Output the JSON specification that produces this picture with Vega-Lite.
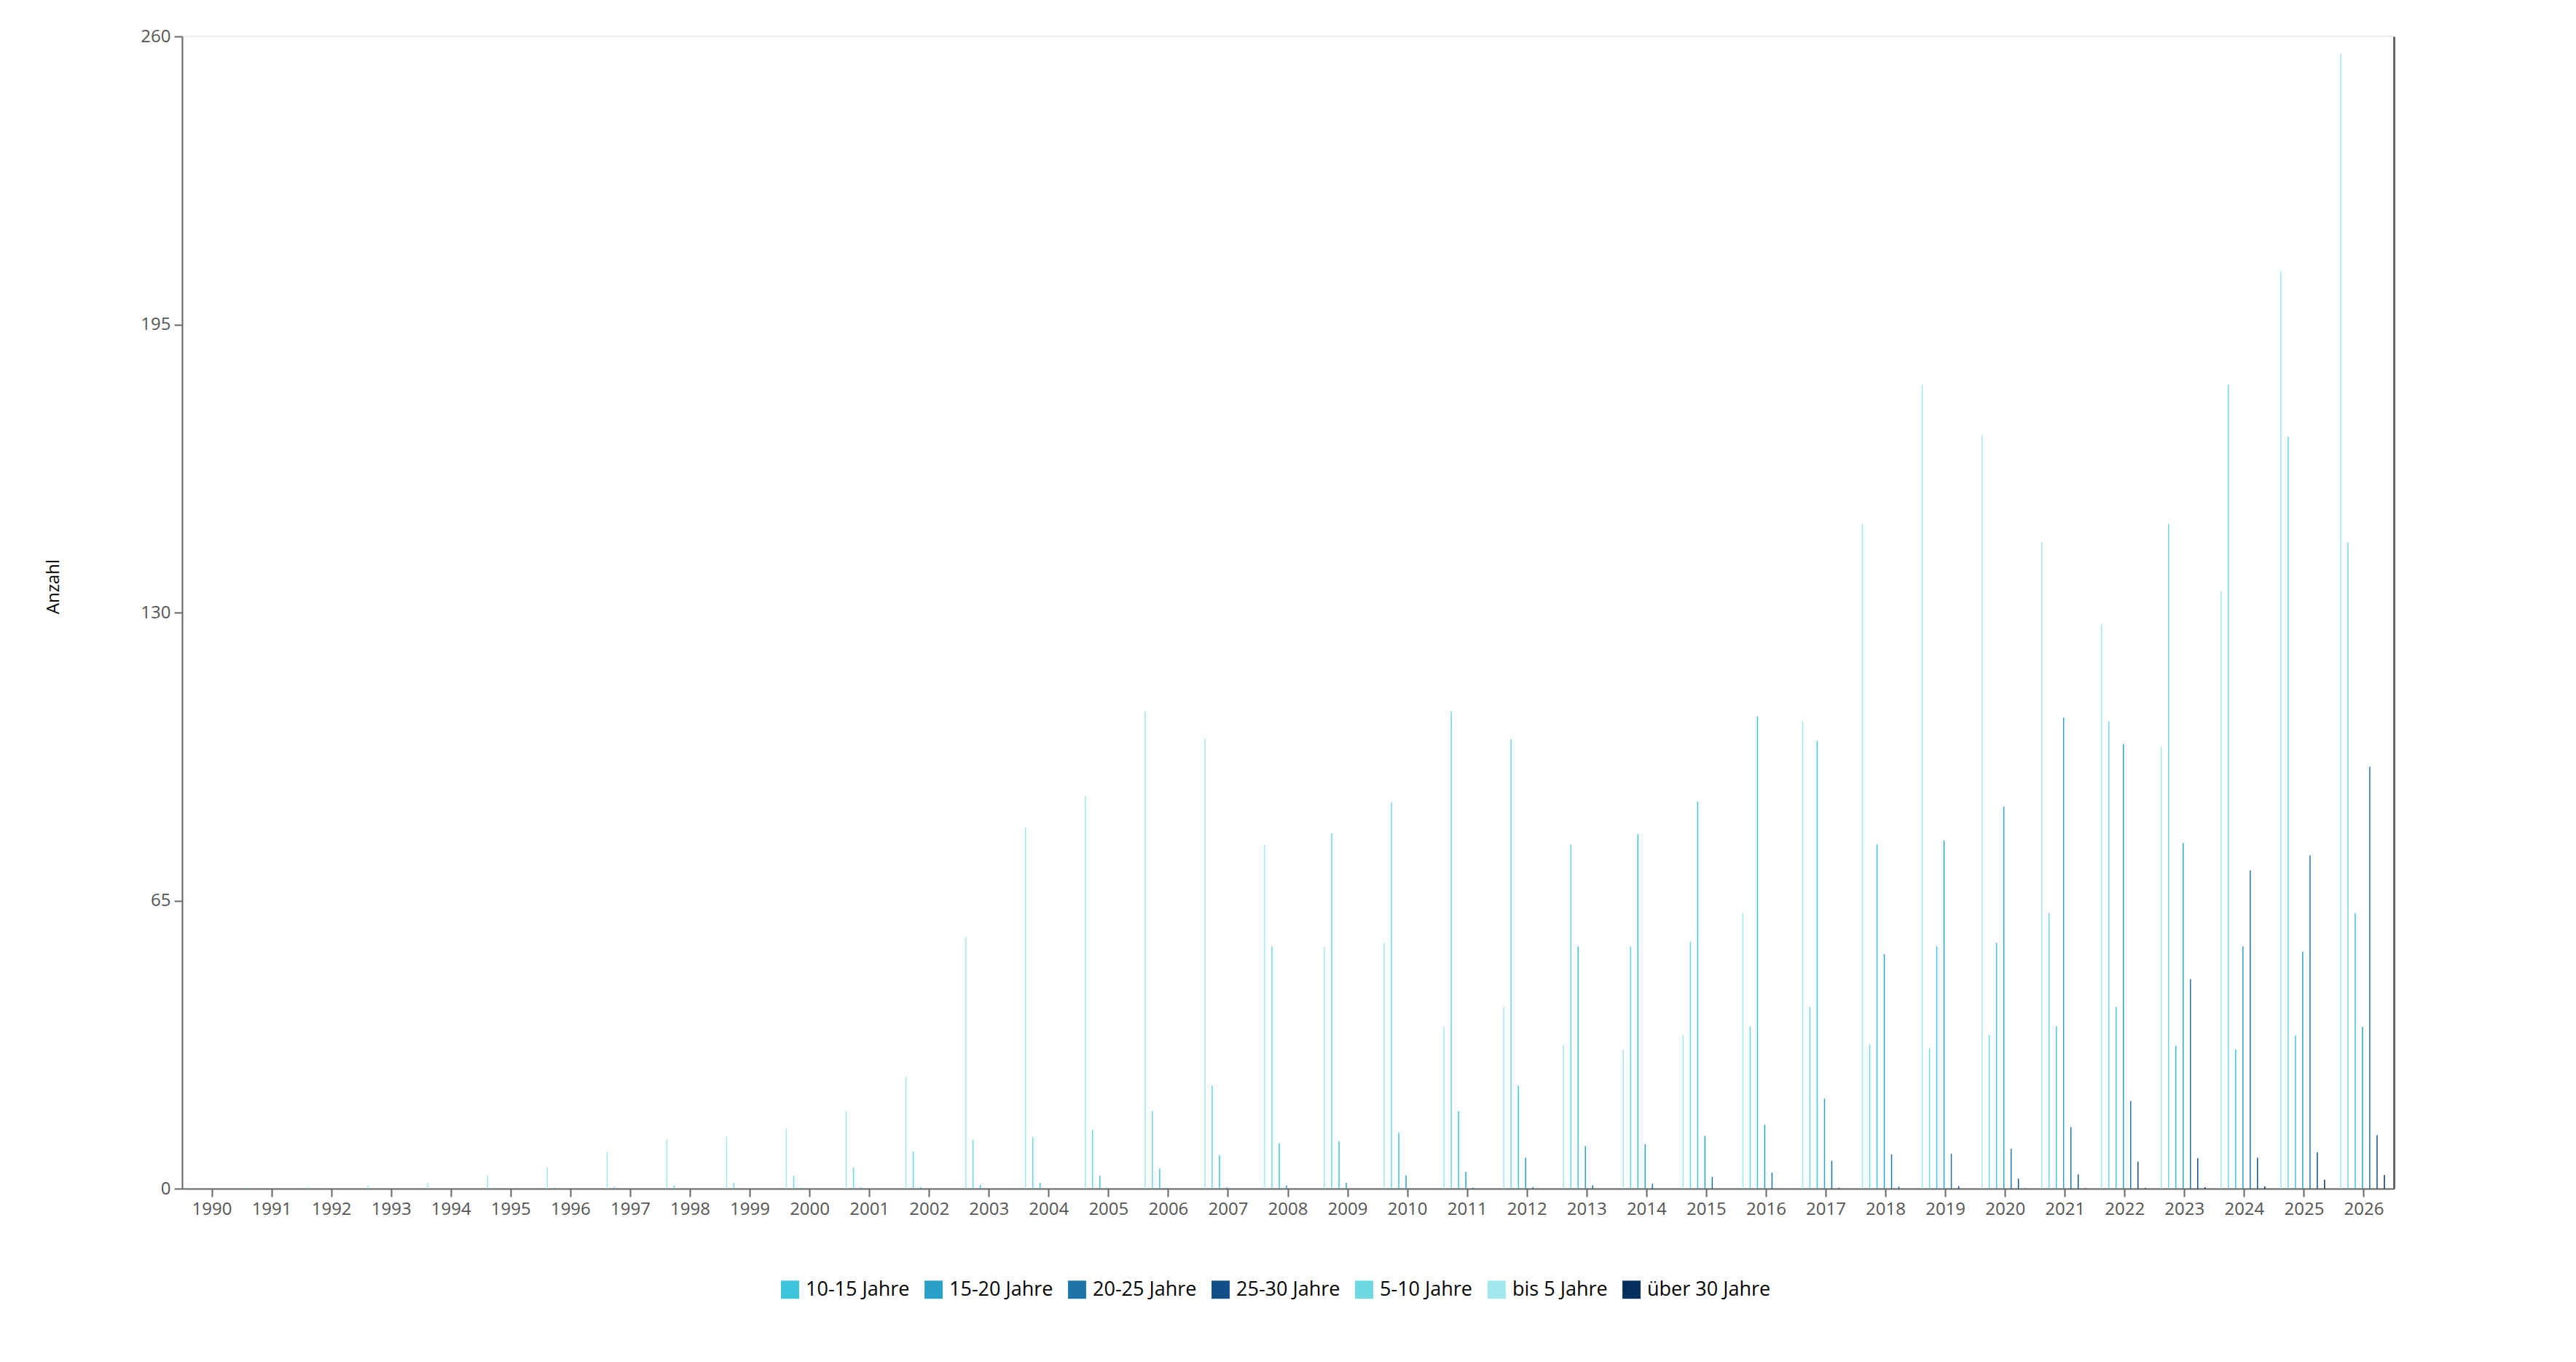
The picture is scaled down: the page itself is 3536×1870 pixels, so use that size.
{
  "$schema": "https://vega.github.io/schema/vega-lite/v6.json",
  "width": 3036,
  "height": 1582,
  "autosize": "none",
  "padding": {"left": 250, "top": 50, "right": 250, "bottom": 238},
  "data": {
    "values": [
      {"Jahr": "1990", "Kategorie": "bis 5 Jahre", "Anzahl": 0.2},
      {"Jahr": "1991", "Kategorie": "bis 5 Jahre", "Anzahl": 0.3},
      {"Jahr": "1992", "Kategorie": "bis 5 Jahre", "Anzahl": 0.45},
      {"Jahr": "1993", "Kategorie": "bis 5 Jahre", "Anzahl": 0.8},
      {"Jahr": "1994", "Kategorie": "bis 5 Jahre", "Anzahl": 1.3},
      {"Jahr": "1995", "Kategorie": "bis 5 Jahre", "Anzahl": 2.9},
      {"Jahr": "1995", "Kategorie": "5-10 Jahre", "Anzahl": 0.2},
      {"Jahr": "1996", "Kategorie": "bis 5 Jahre", "Anzahl": 4.8},
      {"Jahr": "1996", "Kategorie": "5-10 Jahre", "Anzahl": 0.3},
      {"Jahr": "1997", "Kategorie": "bis 5 Jahre", "Anzahl": 8.4},
      {"Jahr": "1997", "Kategorie": "5-10 Jahre", "Anzahl": 0.4},
      {"Jahr": "1998", "Kategorie": "bis 5 Jahre", "Anzahl": 11.1},
      {"Jahr": "1998", "Kategorie": "5-10 Jahre", "Anzahl": 0.8},
      {"Jahr": "1999", "Kategorie": "bis 5 Jahre", "Anzahl": 11.7},
      {"Jahr": "1999", "Kategorie": "5-10 Jahre", "Anzahl": 1.3},
      {"Jahr": "2000", "Kategorie": "bis 5 Jahre", "Anzahl": 13.6},
      {"Jahr": "2000", "Kategorie": "5-10 Jahre", "Anzahl": 2.9},
      {"Jahr": "2000", "Kategorie": "10-15 Jahre", "Anzahl": 0.15},
      {"Jahr": "2001", "Kategorie": "bis 5 Jahre", "Anzahl": 17.5},
      {"Jahr": "2001", "Kategorie": "5-10 Jahre", "Anzahl": 4.8},
      {"Jahr": "2001", "Kategorie": "10-15 Jahre", "Anzahl": 0.3},
      {"Jahr": "2002", "Kategorie": "bis 5 Jahre", "Anzahl": 25.3},
      {"Jahr": "2002", "Kategorie": "5-10 Jahre", "Anzahl": 8.4},
      {"Jahr": "2002", "Kategorie": "10-15 Jahre", "Anzahl": 0.4},
      {"Jahr": "2003", "Kategorie": "bis 5 Jahre", "Anzahl": 56.8},
      {"Jahr": "2003", "Kategorie": "5-10 Jahre", "Anzahl": 11.1},
      {"Jahr": "2003", "Kategorie": "10-15 Jahre", "Anzahl": 0.8},
      {"Jahr": "2004", "Kategorie": "bis 5 Jahre", "Anzahl": 81.5},
      {"Jahr": "2004", "Kategorie": "5-10 Jahre", "Anzahl": 11.5},
      {"Jahr": "2004", "Kategorie": "10-15 Jahre", "Anzahl": 1.3},
      {"Jahr": "2005", "Kategorie": "bis 5 Jahre", "Anzahl": 88.5},
      {"Jahr": "2005", "Kategorie": "5-10 Jahre", "Anzahl": 13.3},
      {"Jahr": "2005", "Kategorie": "10-15 Jahre", "Anzahl": 2.9},
      {"Jahr": "2005", "Kategorie": "15-20 Jahre", "Anzahl": 0.15},
      {"Jahr": "2006", "Kategorie": "bis 5 Jahre", "Anzahl": 107.7},
      {"Jahr": "2006", "Kategorie": "5-10 Jahre", "Anzahl": 17.6},
      {"Jahr": "2006", "Kategorie": "10-15 Jahre", "Anzahl": 4.5},
      {"Jahr": "2006", "Kategorie": "15-20 Jahre", "Anzahl": 0.15},
      {"Jahr": "2007", "Kategorie": "bis 5 Jahre", "Anzahl": 101.5},
      {"Jahr": "2007", "Kategorie": "5-10 Jahre", "Anzahl": 23.3},
      {"Jahr": "2007", "Kategorie": "10-15 Jahre", "Anzahl": 7.5},
      {"Jahr": "2007", "Kategorie": "15-20 Jahre", "Anzahl": 0.3},
      {"Jahr": "2008", "Kategorie": "bis 5 Jahre", "Anzahl": 77.7},
      {"Jahr": "2008", "Kategorie": "5-10 Jahre", "Anzahl": 54.7},
      {"Jahr": "2008", "Kategorie": "10-15 Jahre", "Anzahl": 10.2},
      {"Jahr": "2008", "Kategorie": "15-20 Jahre", "Anzahl": 0.75},
      {"Jahr": "2009", "Kategorie": "bis 5 Jahre", "Anzahl": 54.6},
      {"Jahr": "2009", "Kategorie": "5-10 Jahre", "Anzahl": 80.2},
      {"Jahr": "2009", "Kategorie": "10-15 Jahre", "Anzahl": 10.7},
      {"Jahr": "2009", "Kategorie": "15-20 Jahre", "Anzahl": 1.3},
      {"Jahr": "2010", "Kategorie": "bis 5 Jahre", "Anzahl": 55.5},
      {"Jahr": "2010", "Kategorie": "5-10 Jahre", "Anzahl": 87.2},
      {"Jahr": "2010", "Kategorie": "10-15 Jahre", "Anzahl": 12.6},
      {"Jahr": "2010", "Kategorie": "15-20 Jahre", "Anzahl": 3.0},
      {"Jahr": "2011", "Kategorie": "bis 5 Jahre", "Anzahl": 36.6},
      {"Jahr": "2011", "Kategorie": "5-10 Jahre", "Anzahl": 107.7},
      {"Jahr": "2011", "Kategorie": "10-15 Jahre", "Anzahl": 17.5},
      {"Jahr": "2011", "Kategorie": "15-20 Jahre", "Anzahl": 3.8},
      {"Jahr": "2011", "Kategorie": "20-25 Jahre", "Anzahl": 0.2},
      {"Jahr": "2012", "Kategorie": "bis 5 Jahre", "Anzahl": 41},
      {"Jahr": "2012", "Kategorie": "5-10 Jahre", "Anzahl": 101.4},
      {"Jahr": "2012", "Kategorie": "10-15 Jahre", "Anzahl": 23.2},
      {"Jahr": "2012", "Kategorie": "15-20 Jahre", "Anzahl": 7.0},
      {"Jahr": "2012", "Kategorie": "20-25 Jahre", "Anzahl": 0.33},
      {"Jahr": "2013", "Kategorie": "bis 5 Jahre", "Anzahl": 32.5},
      {"Jahr": "2013", "Kategorie": "5-10 Jahre", "Anzahl": 77.7},
      {"Jahr": "2013", "Kategorie": "10-15 Jahre", "Anzahl": 54.7},
      {"Jahr": "2013", "Kategorie": "15-20 Jahre", "Anzahl": 9.6},
      {"Jahr": "2013", "Kategorie": "20-25 Jahre", "Anzahl": 0.77},
      {"Jahr": "2014", "Kategorie": "bis 5 Jahre", "Anzahl": 31.4},
      {"Jahr": "2014", "Kategorie": "5-10 Jahre", "Anzahl": 54.7},
      {"Jahr": "2014", "Kategorie": "10-15 Jahre", "Anzahl": 80},
      {"Jahr": "2014", "Kategorie": "15-20 Jahre", "Anzahl": 10.0},
      {"Jahr": "2014", "Kategorie": "20-25 Jahre", "Anzahl": 1.1},
      {"Jahr": "2015", "Kategorie": "bis 5 Jahre", "Anzahl": 34.7},
      {"Jahr": "2015", "Kategorie": "5-10 Jahre", "Anzahl": 55.8},
      {"Jahr": "2015", "Kategorie": "10-15 Jahre", "Anzahl": 87.3},
      {"Jahr": "2015", "Kategorie": "15-20 Jahre", "Anzahl": 11.9},
      {"Jahr": "2015", "Kategorie": "20-25 Jahre", "Anzahl": 2.7},
      {"Jahr": "2016", "Kategorie": "bis 5 Jahre", "Anzahl": 62.2},
      {"Jahr": "2016", "Kategorie": "5-10 Jahre", "Anzahl": 36.6},
      {"Jahr": "2016", "Kategorie": "10-15 Jahre", "Anzahl": 106.6},
      {"Jahr": "2016", "Kategorie": "15-20 Jahre", "Anzahl": 14.4},
      {"Jahr": "2016", "Kategorie": "20-25 Jahre", "Anzahl": 3.6},
      {"Jahr": "2016", "Kategorie": "25-30 Jahre", "Anzahl": 0.05},
      {"Jahr": "2017", "Kategorie": "bis 5 Jahre", "Anzahl": 105.5},
      {"Jahr": "2017", "Kategorie": "5-10 Jahre", "Anzahl": 41},
      {"Jahr": "2017", "Kategorie": "10-15 Jahre", "Anzahl": 101},
      {"Jahr": "2017", "Kategorie": "15-20 Jahre", "Anzahl": 20.3},
      {"Jahr": "2017", "Kategorie": "20-25 Jahre", "Anzahl": 6.3},
      {"Jahr": "2017", "Kategorie": "25-30 Jahre", "Anzahl": 0.2},
      {"Jahr": "2018", "Kategorie": "bis 5 Jahre", "Anzahl": 150},
      {"Jahr": "2018", "Kategorie": "5-10 Jahre", "Anzahl": 32.5},
      {"Jahr": "2018", "Kategorie": "10-15 Jahre", "Anzahl": 77.7},
      {"Jahr": "2018", "Kategorie": "15-20 Jahre", "Anzahl": 52.9},
      {"Jahr": "2018", "Kategorie": "20-25 Jahre", "Anzahl": 7.7},
      {"Jahr": "2018", "Kategorie": "25-30 Jahre", "Anzahl": 0.44},
      {"Jahr": "2019", "Kategorie": "bis 5 Jahre", "Anzahl": 181.5},
      {"Jahr": "2019", "Kategorie": "5-10 Jahre", "Anzahl": 31.7},
      {"Jahr": "2019", "Kategorie": "10-15 Jahre", "Anzahl": 54.7},
      {"Jahr": "2019", "Kategorie": "15-20 Jahre", "Anzahl": 78.5},
      {"Jahr": "2019", "Kategorie": "20-25 Jahre", "Anzahl": 7.9},
      {"Jahr": "2019", "Kategorie": "25-30 Jahre", "Anzahl": 0.6},
      {"Jahr": "2020", "Kategorie": "bis 5 Jahre", "Anzahl": 170},
      {"Jahr": "2020", "Kategorie": "5-10 Jahre", "Anzahl": 34.7},
      {"Jahr": "2020", "Kategorie": "10-15 Jahre", "Anzahl": 55.5},
      {"Jahr": "2020", "Kategorie": "15-20 Jahre", "Anzahl": 86.2},
      {"Jahr": "2020", "Kategorie": "20-25 Jahre", "Anzahl": 9.0},
      {"Jahr": "2020", "Kategorie": "25-30 Jahre", "Anzahl": 2.25},
      {"Jahr": "2020", "Kategorie": "über 30 Jahre", "Anzahl": 0.05},
      {"Jahr": "2021", "Kategorie": "bis 5 Jahre", "Anzahl": 146},
      {"Jahr": "2021", "Kategorie": "5-10 Jahre", "Anzahl": 62.2},
      {"Jahr": "2021", "Kategorie": "10-15 Jahre", "Anzahl": 36.6},
      {"Jahr": "2021", "Kategorie": "15-20 Jahre", "Anzahl": 106.3},
      {"Jahr": "2021", "Kategorie": "20-25 Jahre", "Anzahl": 13.9},
      {"Jahr": "2021", "Kategorie": "25-30 Jahre", "Anzahl": 3.2},
      {"Jahr": "2021", "Kategorie": "über 30 Jahre", "Anzahl": 0.1},
      {"Jahr": "2022", "Kategorie": "bis 5 Jahre", "Anzahl": 127.4},
      {"Jahr": "2022", "Kategorie": "5-10 Jahre", "Anzahl": 105.5},
      {"Jahr": "2022", "Kategorie": "10-15 Jahre", "Anzahl": 41},
      {"Jahr": "2022", "Kategorie": "15-20 Jahre", "Anzahl": 100.3},
      {"Jahr": "2022", "Kategorie": "20-25 Jahre", "Anzahl": 19.8},
      {"Jahr": "2022", "Kategorie": "25-30 Jahre", "Anzahl": 6.1},
      {"Jahr": "2022", "Kategorie": "über 30 Jahre", "Anzahl": 0.16},
      {"Jahr": "2023", "Kategorie": "bis 5 Jahre", "Anzahl": 99.6},
      {"Jahr": "2023", "Kategorie": "5-10 Jahre", "Anzahl": 150},
      {"Jahr": "2023", "Kategorie": "10-15 Jahre", "Anzahl": 32.3},
      {"Jahr": "2023", "Kategorie": "15-20 Jahre", "Anzahl": 78},
      {"Jahr": "2023", "Kategorie": "20-25 Jahre", "Anzahl": 47.3},
      {"Jahr": "2023", "Kategorie": "25-30 Jahre", "Anzahl": 6.85},
      {"Jahr": "2023", "Kategorie": "über 30 Jahre", "Anzahl": 0.33},
      {"Jahr": "2024", "Kategorie": "bis 5 Jahre", "Anzahl": 134.8},
      {"Jahr": "2024", "Kategorie": "5-10 Jahre", "Anzahl": 181.5},
      {"Jahr": "2024", "Kategorie": "10-15 Jahre", "Anzahl": 31.4},
      {"Jahr": "2024", "Kategorie": "15-20 Jahre", "Anzahl": 54.7},
      {"Jahr": "2024", "Kategorie": "20-25 Jahre", "Anzahl": 71.8},
      {"Jahr": "2024", "Kategorie": "25-30 Jahre", "Anzahl": 7.0},
      {"Jahr": "2024", "Kategorie": "über 30 Jahre", "Anzahl": 0.5},
      {"Jahr": "2025", "Kategorie": "bis 5 Jahre", "Anzahl": 207.1},
      {"Jahr": "2025", "Kategorie": "5-10 Jahre", "Anzahl": 169.7},
      {"Jahr": "2025", "Kategorie": "10-15 Jahre", "Anzahl": 34.6},
      {"Jahr": "2025", "Kategorie": "15-20 Jahre", "Anzahl": 53.5},
      {"Jahr": "2025", "Kategorie": "20-25 Jahre", "Anzahl": 75.2},
      {"Jahr": "2025", "Kategorie": "25-30 Jahre", "Anzahl": 8.2},
      {"Jahr": "2025", "Kategorie": "über 30 Jahre", "Anzahl": 2.0},
      {"Jahr": "2026", "Kategorie": "bis 5 Jahre", "Anzahl": 256},
      {"Jahr": "2026", "Kategorie": "5-10 Jahre", "Anzahl": 145.8},
      {"Jahr": "2026", "Kategorie": "10-15 Jahre", "Anzahl": 62.2},
      {"Jahr": "2026", "Kategorie": "15-20 Jahre", "Anzahl": 36.5},
      {"Jahr": "2026", "Kategorie": "20-25 Jahre", "Anzahl": 95.2},
      {"Jahr": "2026", "Kategorie": "25-30 Jahre", "Anzahl": 12.1},
      {"Jahr": "2026", "Kategorie": "über 30 Jahre", "Anzahl": 3.1}
    ]
  },
  "layer": [
    {
      "mark": {"type": "bar", "width": 1.5},
      "encoding": {
        "x": {
          "field": "Jahr",
          "type": "ordinal",
          "title": null,
          "scale": {"paddingInner": 0, "paddingOuter": 0},
          "axis": {"labelAngle": 0}
        },
        "xOffset": {
          "field": "Kategorie",
          "type": "nominal",
          "scale": {
            "domain": ["bis 5 Jahre", "5-10 Jahre", "10-15 Jahre", "15-20 Jahre", "20-25 Jahre", "25-30 Jahre", "über 30 Jahre"],
            "paddingInner": 0,
            "paddingOuter": 0.6,
            "align": 0.33
          }
        },
        "y": {
          "field": "Anzahl",
          "type": "quantitative",
          "title": "Anzahl",
          "scale": {"domain": [0, 260], "nice": false},
          "axis": {"values": [0, 65, 130, 195, 260], "titlePadding": 107, "titleY": 755}
        },
        "color": {
          "field": "Kategorie",
          "type": "nominal",
          "title": null,
          "scale": {
            "domain": ["10-15 Jahre", "15-20 Jahre", "20-25 Jahre", "25-30 Jahre", "5-10 Jahre", "bis 5 Jahre", "über 30 Jahre"],
            "range": ["#3cc6db", "#28a0c9", "#1e74a8", "#124e88", "#6ed8e2", "#a0e8ee", "#04305f"]
          },
          "legend": {"orient": "none", "direction": "horizontal", "legendX": 821, "legendY": 1707}
        },
        "tooltip": [
          {"field": "Jahr", "type": "ordinal"},
          {"field": "Kategorie", "type": "nominal"},
          {"field": "Anzahl", "type": "quantitative"}
        ]
      }
    },
    {
      "mark": {"type": "bar", "opacity": 0},
      "encoding": {
        "x": {"field": "Jahr", "type": "ordinal"},
        "y": {
          "field": "Anzahl",
          "type": "quantitative",
          "axis": {"orient": "right", "labels": false, "ticks": false, "title": null, "domainWidth": 3}
        }
      }
    }
  ],
  "resolve": {"axis": {"y": "independent"}},
  "config": {
    "font": "Open Sans",
    "view": {"stroke": "#eeeeee", "strokeWidth": 2},
    "axis": {
      "grid": false,
      "domainColor": "#666666",
      "domainWidth": 2,
      "tickColor": "#666666",
      "tickWidth": 2,
      "tickSize": 11,
      "labelColor": "#555555",
      "labelFontSize": 24,
      "labelPadding": 5,
      "titleColor": "#000000",
      "titleFontSize": 24,
      "titleFontWeight": "normal"
    },
    "legend": {
      "labelFontSize": 27,
      "labelColor": "#000000",
      "labelLimit": 0,
      "symbolType": "square",
      "symbolSize": 620,
      "symbolStrokeWidth": 0,
      "columnPadding": 19,
      "labelOffset": 8
    }
  }
}
